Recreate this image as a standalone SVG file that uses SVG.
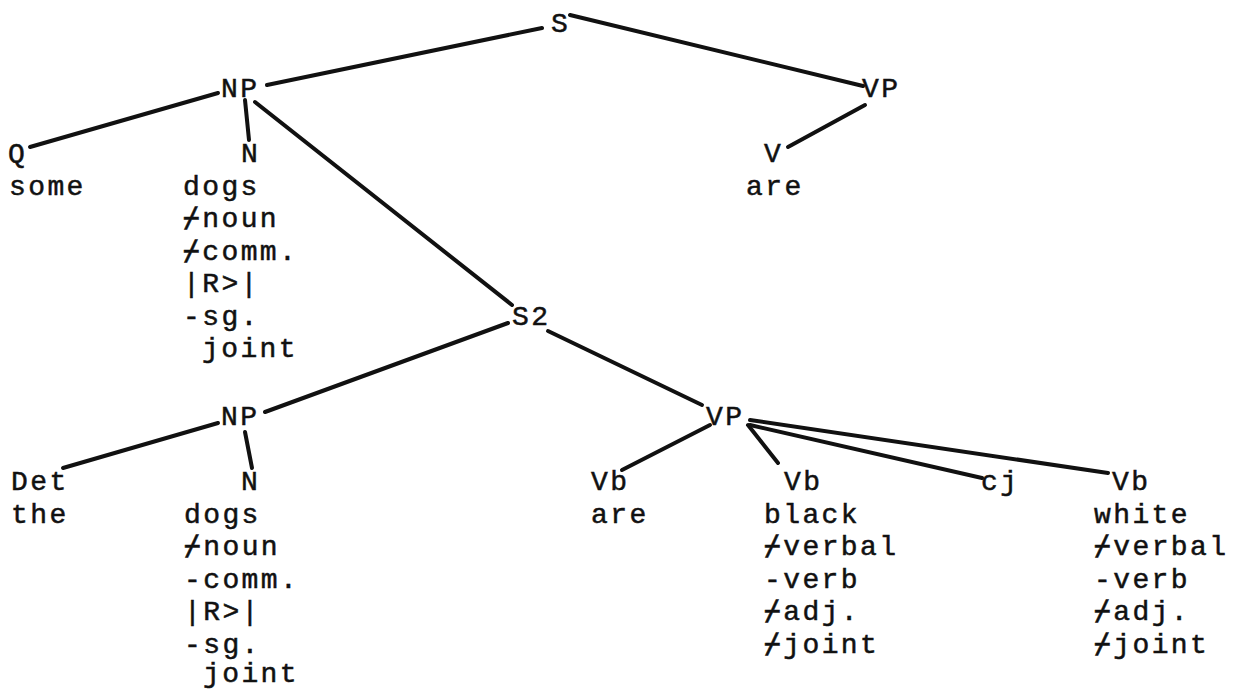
<svg xmlns="http://www.w3.org/2000/svg" width="1244" height="690" viewBox="0 0 1244 690">
<style>
text{font-family:"Liberation Mono","DejaVu Sans Mono",monospace;font-size:28px;letter-spacing:2.4px;fill:#111;stroke:#111;stroke-width:0.5px;}
.e line{stroke:#111;stroke-width:4;stroke-linecap:round;}
</style>
<rect width="1244" height="690" fill="#fff"/>
<g class="e" id="connectors">
<line x1="542" y1="28" x2="267" y2="85"/>
<line x1="570" y1="15" x2="863" y2="86"/>
<line x1="865" y1="105" x2="788" y2="147"/>
<line x1="218" y1="93" x2="30" y2="147"/>
<line x1="245" y1="100" x2="249" y2="140"/>
<line x1="255" y1="102" x2="512" y2="305"/>
<line x1="508" y1="323" x2="265" y2="412"/>
<line x1="548" y1="331" x2="702" y2="405"/>
<line x1="218" y1="423" x2="63" y2="468"/>
<line x1="245" y1="432" x2="252" y2="468"/>
<line x1="710" y1="425" x2="622" y2="470"/>
<line x1="748" y1="425" x2="778" y2="463"/>
<line x1="750" y1="425" x2="982" y2="478"/>
<line x1="750" y1="420" x2="1108" y2="473"/>
</g>
<g id="S"><text x="551" y="32">S</text></g>
<g id="NP1"><text x="221" y="97">NP</text></g>
<g id="VP1"><text x="862" y="97">VP</text></g>
<g id="Q"><text x="8" y="162">Q</text><text x="9" y="194.5">some</text></g>
<g id="N1"><text x="241" y="162">N</text>
<text x="183" y="194.5">dogs</text>
<text x="183" y="227">⌿noun</text>
<text x="183" y="259.5">⌿comm.</text>
<text x="183" y="292">|R&gt;|</text>
<text x="183" y="324.5">-sg.</text>
<text x="202" y="357">joint</text></g>
<g id="V1"><text x="764" y="162">V</text><text x="746" y="194.5">are</text></g>
<g id="S2"><text x="512" y="325">S2</text></g>
<g id="NP2"><text x="221" y="425">NP</text></g>
<g id="VP2"><text x="706" y="425">VP</text></g>
<g id="Det"><text x="11" y="490">Det</text><text x="11" y="522.5">the</text></g>
<g id="N2"><text x="241" y="490">N</text>
<text x="184" y="522.5">dogs</text>
<text x="184" y="555">⌿noun</text>
<text x="184" y="587.5">-comm.</text>
<text x="184" y="620">|R&gt;|</text>
<text x="184" y="652.5">-sg.</text>
<text x="203" y="682">joint</text></g>
<g id="Vb1"><text x="591" y="490">Vb</text><text x="591" y="522.5">are</text></g>
<g id="Vb2"><text x="784" y="490">Vb</text>
<text x="764" y="522.5">black</text>
<text x="764" y="555">⌿verbal</text>
<text x="764" y="587.5">-verb</text>
<text x="764" y="620">⌿adj.</text>
<text x="764" y="652.5">⌿joint</text></g>
<g id="cj"><text x="981" y="490">cj</text></g>
<g id="Vb3"><text x="1112" y="490">Vb</text>
<text x="1094" y="522.5">white</text>
<text x="1094" y="555">⌿verbal</text>
<text x="1094" y="587.5">-verb</text>
<text x="1094" y="620">⌿adj.</text>
<text x="1094" y="652.5">⌿joint</text></g>
</svg>
